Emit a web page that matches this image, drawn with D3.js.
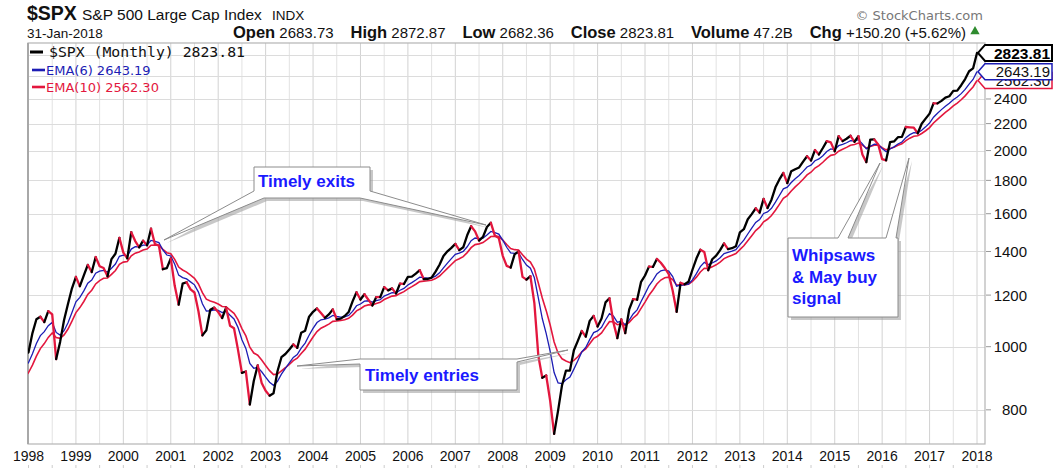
<!DOCTYPE html>
<html><head><meta charset="utf-8">
<script src="https://cdn.jsdelivr.net/npm/d3@7"></script>
<style>body{margin:0;background:#fff;}svg{display:block;}</style>
</head><body>
<svg id="c" width="1058" height="471"></svg>
<script>
// ---- data (monthly, starting Dec 1997) ----
const firstMonth = "1997-12";
const spx = [970.43,
980.28,1049.34,1101.75,1111.75,1090.82,1133.84,1120.67,957.28,1017.01,1098.67,1163.63,1229.23,
1279.64,1238.33,1286.37,1335.18,1301.84,1372.71,1328.72,1320.41,1282.71,1362.93,1388.91,1469.25,
1394.46,1366.42,1498.58,1452.43,1420.60,1454.60,1430.83,1517.68,1436.51,1429.40,1314.95,1320.28,
1366.01,1239.94,1160.33,1249.46,1255.82,1224.42,1211.23,1133.58,1040.94,1059.78,1139.45,1148.08,
1130.20,1106.73,1147.39,1076.92,1067.14,989.82,911.62,916.07,815.28,885.76,936.31,879.82,
855.70,841.15,848.18,916.92,963.59,974.50,990.31,1008.01,995.97,1050.71,1058.20,1111.92,
1131.13,1144.94,1126.21,1107.30,1120.68,1140.84,1101.72,1104.24,1114.58,1130.20,1173.82,1211.92,
1181.27,1203.60,1180.59,1156.85,1191.50,1191.33,1234.18,1220.33,1228.81,1207.01,1249.48,1248.29,
1280.08,1280.66,1294.83,1310.61,1270.09,1270.20,1276.66,1303.82,1335.85,1377.94,1400.63,1418.30,
1438.24,1406.82,1420.86,1482.37,1530.62,1503.35,1455.27,1473.99,1526.75,1549.38,1481.14,1468.36,
1378.55,1330.63,1322.70,1385.59,1400.38,1280.00,1267.38,1282.83,1166.36,968.75,896.24,903.25,
825.88,735.09,797.87,872.81,919.14,919.32,987.48,1020.62,1057.08,1036.19,1095.63,1115.10,
1073.87,1104.49,1169.43,1186.69,1089.41,1030.71,1101.60,1049.33,1141.20,1183.26,1180.55,1257.64,
1286.12,1327.22,1325.83,1363.61,1345.20,1320.64,1292.28,1218.89,1131.42,1253.30,1246.96,1257.60,
1312.41,1365.68,1408.47,1397.91,1310.33,1362.16,1379.32,1406.58,1440.67,1412.16,1416.18,1426.19,
1498.11,1514.68,1569.19,1597.57,1630.74,1606.28,1685.73,1632.97,1681.55,1756.54,1805.81,1848.36,
1782.59,1859.45,1872.34,1883.95,1923.57,1960.23,1930.67,2003.37,1972.29,2018.05,2067.56,2058.90,
1994.99,2104.50,2067.89,2085.51,2107.39,2063.11,2103.84,1972.18,1920.03,2079.36,2080.41,2043.94,
1940.24,1932.23,2059.74,2065.30,2096.95,2098.86,2173.60,2170.95,2168.27,2126.15,2198.81,2238.83,
2278.87,2363.64,2362.72,2384.20,2411.80,2423.41,2470.30,2471.65,2519.36,2575.26,2647.58,2673.61,
2823.81];
const ema6 = [931.3,
945.3,975.0,1011.2,1039.9,1054.4,1077.1,1089.5,1051.7,1041.8,1058.1,1088.2,1128.5,
1171.7,1190.7,1218.0,1251.5,1265.9,1296.4,1305.6,1309.8,1302.1,1319.5,1339.3,1376.4,
1381.6,1377.3,1412.0,1423.5,1422.7,1431.8,1431.5,1456.1,1450.5,1444.5,1407.5,1382.6,
1377.9,1338.5,1287.6,1276.7,1270.7,1257.5,1244.3,1212.7,1163.6,1133.9,1135.5,1139.1,
1136.6,1128.1,1133.6,1117.4,1103.0,1070.7,1025.2,994.0,942.9,926.6,929.4,915.2,
898.2,881.9,872.3,885.0,907.5,926.6,944.8,962.9,972.4,994.8,1012.9,1041.2,
1066.9,1089.2,1099.8,1101.9,1107.3,1116.9,1112.6,1110.2,1111.5,1116.8,1133.1,1155.6,
1162.9,1174.5,1176.2,1170.7,1176.6,1180.8,1196.1,1203.0,1210.4,1209.4,1220.9,1228.7,
1243.4,1254.1,1265.7,1278.5,1276.1,1274.4,1275.1,1283.3,1298.3,1321.0,1343.7,1365.0,
1385.9,1391.9,1400.2,1423.7,1454.2,1468.2,1464.5,1467.2,1484.2,1502.8,1496.6,1488.5,
1457.1,1421.0,1392.9,1390.8,1393.5,1361.1,1334.3,1319.6,1275.8,1188.1,1104.7,1047.1,
983.9,912.8,880.0,877.9,889.7,898.2,923.7,951.4,981.6,997.2,1025.3,1051.0,
1057.5,1070.9,1099.0,1124.1,1114.2,1090.3,1093.5,1080.9,1098.1,1122.4,1139.0,1172.9,
1205.2,1240.1,1264.6,1292.9,1307.8,1311.5,1306.0,1281.1,1238.3,1242.6,1243.9,1247.8,
1266.3,1294.7,1327.2,1347.4,1336.8,1344.1,1354.2,1369.2,1389.6,1396.1,1401.8,1408.8,
1434.3,1457.3,1489.3,1520.2,1551.8,1567.4,1601.2,1610.3,1630.7,1666.6,1706.4,1747.0,
1757.2,1786.4,1810.9,1831.8,1858.0,1887.2,1899.6,1929.3,1941.6,1963.4,1993.2,2012.0,
2007.1,2034.9,2044.3,2056.1,2070.8,2068.6,2078.7,2048.3,2011.6,2031.0,2045.1,2044.8,
2014.9,1991.3,2010.8,2026.4,2046.6,2061.5,2093.5,2115.6,2130.7,2129.4,2149.2,2174.8,
2204.5,2250.0,2282.2,2311.3,2340.0,2363.8,2394.2,2416.3,2445.8,2482.8,2529.9,2571.0,
2643.2];
const ema10 = [897.2,
912.3,937.2,967.1,993.4,1011.1,1033.4,1049.3,1032.6,1029.8,1042.3,1064.4,1094.4,
1128.1,1148.1,1173.2,1202.7,1220.7,1248.3,1262.9,1273.4,1275.1,1291.1,1308.9,1338.1,
1348.4,1351.7,1378.4,1391.9,1397.1,1407.6,1411.8,1431.1,1432.1,1431.6,1410.4,1394.0,
1388.9,1361.8,1325.2,1311.4,1301.3,1287.3,1273.5,1248.1,1210.4,1183.0,1175.1,1170.2,
1162.9,1152.7,1151.7,1138.1,1125.2,1100.6,1066.2,1038.9,998.2,977.8,970.3,953.8,
936.0,918.7,905.9,907.9,918.0,928.3,939.6,952.0,960.0,976.5,991.4,1013.3,
1034.7,1054.7,1067.7,1074.9,1083.2,1093.7,1095.2,1096.8,1100.0,1105.5,1117.9,1135.0,
1143.4,1154.3,1159.1,1158.7,1164.7,1169.5,1181.3,1188.4,1195.7,1197.8,1207.2,1214.7,
1226.6,1236.4,1247.0,1258.6,1260.7,1262.4,1265.0,1272.1,1283.7,1300.8,1318.9,1337.0,
1355.4,1364.7,1374.9,1394.4,1419.2,1434.5,1438.3,1444.8,1459.7,1476.0,1476.9,1475.4,
1457.8,1434.7,1414.3,1409.1,1407.5,1384.3,1363.0,1348.4,1315.3,1252.3,1187.6,1135.9,
1079.5,1016.9,977.1,958.1,951.0,945.2,952.9,965.2,981.9,991.8,1010.7,1029.7,
1037.7,1049.8,1071.5,1092.4,1091.9,1080.8,1084.6,1078.2,1089.7,1106.7,1120.1,1145.1,
1170.7,1199.2,1222.2,1247.9,1265.6,1275.6,1278.6,1267.7,1242.9,1244.8,1245.2,1247.5,
1259.3,1278.6,1302.2,1319.6,1317.9,1326.0,1335.7,1348.6,1365.3,1373.8,1381.5,1389.6,
1409.3,1428.5,1454.1,1480.2,1507.6,1525.5,1554.6,1568.9,1589.4,1619.8,1653.6,1689.0,
1706.0,1733.9,1759.1,1781.8,1807.6,1835.3,1852.6,1880.0,1896.8,1918.9,1945.9,1966.4,
1971.6,1995.8,2008.9,2022.8,2038.2,2042.7,2053.8,2039.0,2017.4,2028.7,2038.1,2039.2,
2021.2,2005.0,2014.9,2024.1,2037.4,2048.6,2071.3,2089.4,2103.7,2107.8,2124.3,2145.1,
2169.4,2204.7,2233.4,2260.8,2288.3,2312.9,2341.5,2365.2,2393.2,2426.3,2466.5,2504.2,
2562.3];
const yearLabels = ["1998","1999","2000","2001","2002","2003","2004","2005","2006","2007","2008","2009","2010","2011","2012","2013","2014","2015","2016","2017","2018"];
const yTickValues = [800,1000,1200,1400,1600,1800,2000,2200,2400];
const yGridValues = [800,1000,1200,1400,1600,1800,2000,2200,2400,2600,2800];
const legendNames = ["$SPX (Monthly)","EMA(6)","EMA(10)"];
const legendValues = ["2823.81","2643.19","2562.30"];
const headerLabels = ["Open","High","Low","Close","Volume","Chg"];
const headerValues = ["2683.73","2872.87","2682.36","2823.81","47.2B","+150.20 (+5.62%)"];
const symbol = "$SPX", symbolName = "S&P 500 Large Cap Index", exchange = "INDX", dateLabel = "31-Jan-2018";

// ---- layout ----
const L = 28, R = 985, T = 43, B = 444;
const BLACK = "#000", RED = "#e3173e", BLUE = "#1c1cb4";
const FONT = "Liberation Sans, Arial, sans-serif";
const svg = d3.select("#c");
const x = d3.scaleLinear().domain([0, 240]).range([28.5, 977]); // month index from Jan 1998
const y = d3.scaleLog().domain([709, 2925]).range([B, T]);
const mi = i => i - 1; // data array index -> month index (Dec 1997 = -1)

svg.append("defs").append("clipPath").attr("id","clip")
  .append("rect").attr("x",L).attr("y",T).attr("width",R-L).attr("height",B-T);

// grid
const g = svg.append("g");
const vticks = d3.range(0, 241, 6);
g.selectAll("line.v").data(vticks).join("line")
  .attr("x1", d => x(d)).attr("x2", d => x(d)).attr("y1", T).attr("y2", B)
  .attr("stroke", d => d % 12 === 0 ? "#d2d2d2" : "#e2e2e2").attr("stroke-width", 1);
g.selectAll("line.h").data(yGridValues).join("line")
  .attr("x1", L).attr("x2", R).attr("y1", d => Math.round(y(d))+0.5).attr("y2", d => Math.round(y(d))+0.5)
  .attr("stroke", "#dcdcdc").attr("stroke-width", 1);
svg.append("rect").attr("x", L).attr("y", T).attr("width", R-L).attr("height", B-T)
  .attr("fill", "none").attr("stroke", "#b4b4b4").attr("stroke-width", 1.2);
svg.append("line").attr("x1",L).attr("x2",L).attr("y1",T).attr("y2",B).attr("stroke","#a8a8a8").attr("stroke-width",2);

// axes labels
svg.append("g").selectAll("text").data(yearLabels).join("text")
  .attr("x", (d,i) => x(i*12)).attr("y", 461).attr("text-anchor","middle")
  .attr("font-family",FONT).attr("font-size",14).attr("fill","#111").text(d => d);
svg.append("g").selectAll("line").data(vticks).join("line")
  .attr("x1", d => x(d)).attr("x2", d => x(d)).attr("y1", 465).attr("y2", 468).attr("stroke","#ccc");
svg.append("g").selectAll("text").data(yTickValues).join("text")
  .attr("x", 1027).attr("y", d => y(d)).attr("dy","0.36em").attr("text-anchor","end")
  .attr("font-family",FONT).attr("font-size",15).attr("fill","#111").text(d => d);
svg.append("g").selectAll("line").data(yTickValues).join("line")
  .attr("x1", 986).attr("x2", 991).attr("y1", d => y(d)).attr("y2", d => y(d)).attr("stroke","#999");

// series
const plot = svg.append("g").attr("clip-path","url(#clip)");
const line = d3.line().x((d,i) => x(mi(i))).y(d => y(d));
plot.append("path").attr("d", line(ema10)).attr("fill","none").attr("stroke",RED).attr("stroke-width",1.6);
plot.append("path").attr("d", line(ema6)).attr("fill","none").attr("stroke",BLUE).attr("stroke-width",1.3);
// price: segments coloured by direction, grouped in runs
const runs = [];
for (let i = 1; i < spx.length; i++) {
  const col = spx[i] >= spx[i-1] ? BLACK : RED;
  const last = runs[runs.length-1];
  if (last && last.col === col) last.pts.push(i);
  else runs.push({col, pts:[i-1, i]});
}
plot.selectAll("path.p").data(runs).join("path")
  .attr("d", r => d3.line().x(i => x(mi(i))).y(i => y(spx[i]))(r.pts))
  .attr("fill","none").attr("stroke", r => r.col).attr("stroke-width",2.3)
  .attr("stroke-linejoin","round").attr("stroke-linecap","round");

// header
svg.append("text").attr("x",27).attr("y",20).attr("font-family",FONT)
  .attr("font-size",19.5).attr("font-weight","bold").attr("fill","#111").text(symbol);
svg.append("text").attr("x",82).attr("y",20).attr("font-family",FONT)
  .attr("font-size",15.5).attr("fill","#111").text(symbolName);
svg.append("text").attr("x",272).attr("y",20).attr("font-family",FONT)
  .attr("font-size",13.5).attr("fill","#111").text(exchange);
svg.append("text").attr("x",27).attr("y",38).attr("font-family",FONT)
  .attr("font-size",13.5).attr("fill","#111").text(dateLabel);
// OHLC line: groups spread evenly between x=233 and x=966
const groups = headerLabels.map((lab,i) => {
  const t = svg.append("text").attr("y",38).attr("font-family",FONT).attr("fill","#111");
  t.append("tspan").attr("font-weight","bold").attr("font-size",16.5).text(lab);
  t.append("tspan").attr("font-size",15).text(" "+headerValues[i]);
  return {t, w: t.node().getComputedTextLength()};
});
const hStart = 233, hEnd = 966;
const gap = (hEnd - hStart - d3.sum(groups, d => d.w)) / (groups.length - 1);
let hx = hStart;
groups.forEach(gr => { gr.t.attr("x", hx); hx += gr.w + gap; });
svg.append("path").attr("d", d3.symbol().type(d3.symbolTriangle).size(38)()).attr("transform",`translate(${hEnd+9},${31.5})`).attr("fill","#2e8b2e");
svg.append("text").attr("x",983).attr("y",20).attr("text-anchor","end").attr("font-family","DejaVu Sans, Verdana, sans-serif")
  .attr("font-size",13).attr("fill","#777").text("\u00A9 StockCharts.com");

// legend
svg.append("rect").attr("x",30).attr("y",50.5).attr("width",13).attr("height",3).attr("fill",BLACK);
svg.append("text").attr("x",49).attr("y",57).attr("font-family","DejaVu Sans Mono, monospace").attr("font-size",14.8)
  .attr("fill","#111").text(legendNames[0]+" "+legendValues[0]);
[[BLUE,70,74.5],[RED,87,91.5]].forEach(([col,ly,ty],k) => {
  svg.append("rect").attr("x",32).attr("y",ly-1.3).attr("width",13).attr("height",2.6).attr("fill",col);
  svg.append("text").attr("x",46).attr("y",ty).attr("font-family","DejaVu Sans, Verdana, sans-serif").attr("font-size",13)
    .attr("fill",col).text(legendNames[k+1]+" "+legendValues[k+1]);
});

// value tags
function tag(v, txt, col, sw, bold) {
  const c = y(v);
  const gg = svg.append("g");
  gg.append("path").attr("d", `M978,${c} L985,${c-8} H1052 V${c+8} H985 Z`)
    .attr("fill","#fff").attr("stroke",col).attr("stroke-width",sw);
  gg.append("text").attr("x",1050).attr("y",c).attr("dy","0.36em").attr("text-anchor","end")
    .attr("font-family",FONT).attr("font-size",bold?15.5:15)
    .attr("font-weight",bold?"bold":"normal").attr("fill",col === BLACK ? "#000" : "#111").text(txt);
}
tag(ema10[ema10.length-1], legendValues[2], RED, 1.5, false);
tag(ema6[ema6.length-1], legendValues[1], BLUE, 1.5, false);
tag(spx[spx.length-1], legendValues[0], BLACK, 2, true);

// callouts
function callout(d) {
  const gg = svg.append("g");
  gg.append("path").attr("d", d).attr("transform","translate(3,3)").attr("fill","#9a9a9a").attr("opacity",0.55);
  gg.append("path").attr("d", d).attr("fill","#fff").attr("stroke","#8c8c8c").attr("stroke-width",1);
  return gg;
}
function ctext(gg, lines, x0, y0) {
  const t = gg.append("text").attr("font-family",FONT).attr("font-size",17)
    .attr("font-weight","bold").attr("fill","#1a1aff");
  lines.forEach((s,i) => t.append("tspan").attr("x",x0).attr("y",y0+i*21.5).text(s));
}
const c1 = callout("M254,167 H370 V191 L486,225 L360,198 H264 L164,240 L254,191 Z");
ctext(c1, ["Timely exits"], 258, 187);
const c2 = callout("M360,390 V364 L297,366 L360,359 H517 L568,350 L517,362 V390 Z");
ctext(c2, ["Timely entries"], 365, 381);
const c3 = callout("M788,238 H838 L880,163 L848,238 H886 L909,158 L896,238 H898 V317 H788 Z");
ctext(c3, ["Whipsaws","& May buy","signal"], 792, 261);
</script>
</body></html>
